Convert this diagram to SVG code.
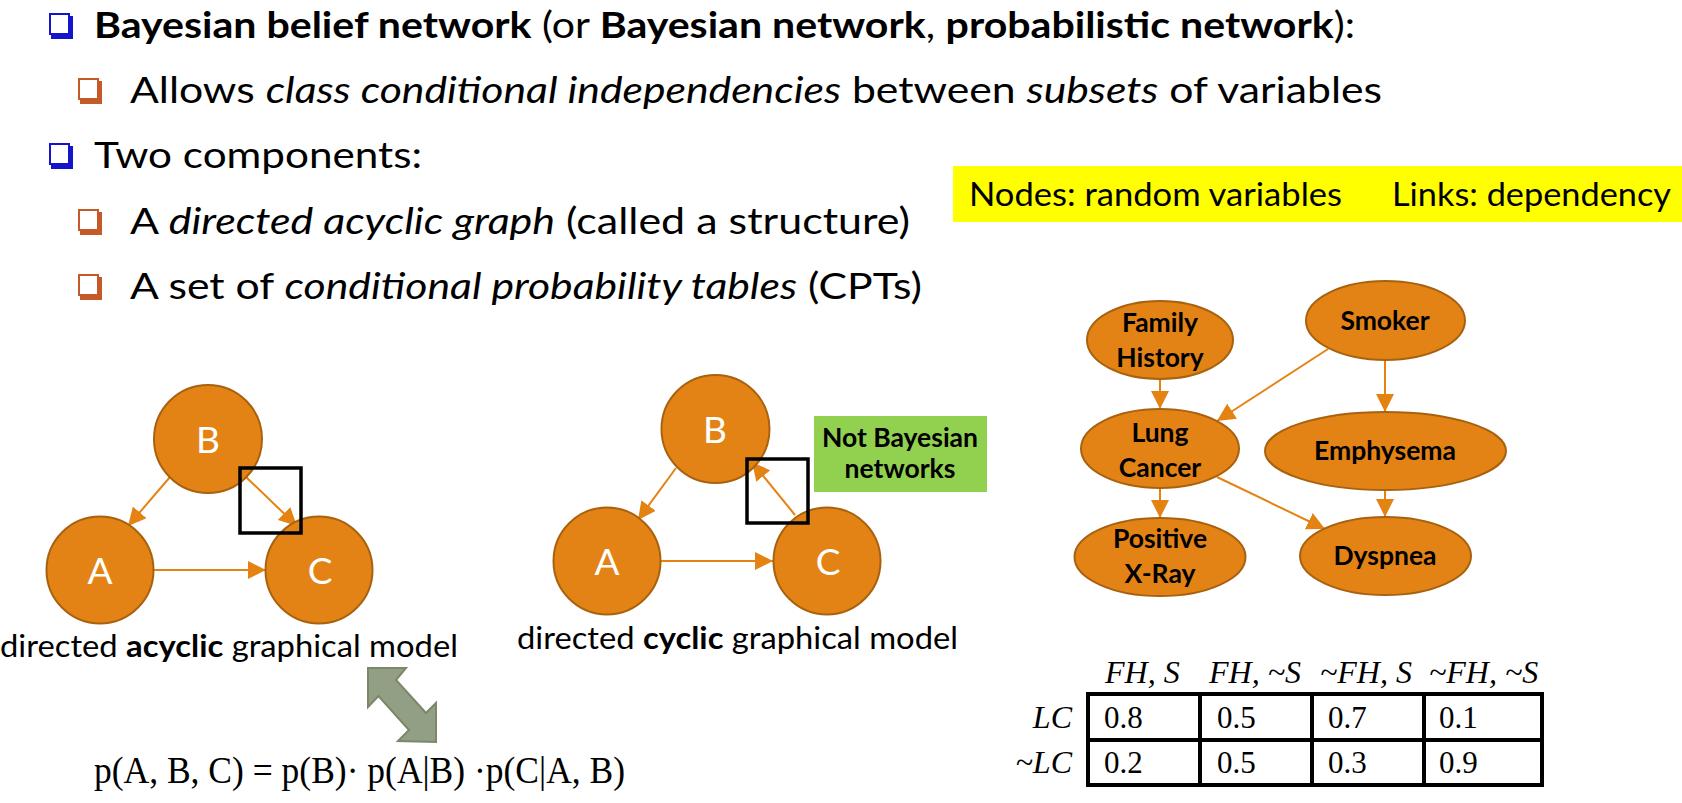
<svg xmlns="http://www.w3.org/2000/svg" width="1682" height="803" viewBox="0 0 1682 803">
<defs>
<style>
.t{font-family:Lato,"Noto Sans","Liberation Sans",sans-serif;fill:#000}
.b{font-weight:bold}
.i{font-style:italic}
.main{font-size:37px}
.cap{font-size:30px}
.node{fill:#E48315;stroke:#A8620F;stroke-width:2}
.lbl{font-family:Lato,"Noto Sans",sans-serif;font-size:37px;fill:#fff;text-anchor:middle}
.nl{font-family:Lato,"Noto Sans",sans-serif;font-size:26.5px;font-weight:bold;fill:#000;text-anchor:middle}
.edge{stroke:#E48312;stroke-width:2;fill:none;marker-end:url(#ah)}
.ser{font-family:"Liberation Serif","Times New Roman",serif;fill:#000}
.cell{fill:#fff;stroke:#000;stroke-width:4}
.box{fill:none;stroke:#000;stroke-width:3.5}
</style>
<marker id="ah" markerWidth="18" markerHeight="18" refX="18" refY="9" orient="auto" markerUnits="userSpaceOnUse">
<path d="M0,0 L18,9 L0,18 z" fill="#E48312"/>
</marker>
<g id="bulletBlue">
<rect x="1" y="1" width="19" height="20" fill="#fff" stroke="#1414CC" stroke-width="2"/>
<polyline points="22,3 22,24 2,24" fill="none" stroke="#1414CC" stroke-width="4"/>
</g>
<g id="bulletOrange">
<rect x="1" y="1" width="19" height="20" fill="#fff" stroke="#C55A28" stroke-width="2"/>
<polyline points="22,3 22,24 2,24" fill="none" stroke="#C55A28" stroke-width="4"/>
</g>
</defs>
<rect width="1682" height="803" fill="#fff"/>

<g id="bullets-text">
<use href="#bulletBlue" x="49" y="13"/>
<text class="t main" x="94" y="38" textLength="1261" lengthAdjust="spacingAndGlyphs"><tspan class="b">Bayesian belief network</tspan> (or <tspan class="b">Bayesian network</tspan>, <tspan class="b">probabilistic network</tspan>):</text>
<use href="#bulletOrange" x="78" y="78"/>
<text class="t main" x="130" y="103" textLength="1252" lengthAdjust="spacingAndGlyphs">Allows <tspan class="i">class conditional independencies</tspan> between <tspan class="i">subsets</tspan> of variables</text>
<use href="#bulletBlue" x="49" y="143"/>
<text class="t main" x="94" y="168" textLength="328" lengthAdjust="spacingAndGlyphs">Two components:</text>
<use href="#bulletOrange" x="78" y="209"/>
<text class="t main" x="130" y="234" textLength="780" lengthAdjust="spacingAndGlyphs">A <tspan class="i">directed acyclic graph</tspan> (called a structure)</text>
<use href="#bulletOrange" x="78" y="274"/>
<text class="t main" x="130" y="299" textLength="792" lengthAdjust="spacingAndGlyphs">A set of <tspan class="i">conditional probability tables</tspan> (CPTs)</text>
</g>

<g id="legend">
<rect x="953" y="166" width="729" height="56" fill="#FFFF00"/>
<text class="t" x="969" y="206" font-size="32" textLength="373" lengthAdjust="spacingAndGlyphs">Nodes: random variables</text>
<text class="t" x="1392" y="206" font-size="32" textLength="279" lengthAdjust="spacingAndGlyphs">Links: dependency</text>
</g>

<g id="connectors">
<line class="edge" x1="170" y1="477" x2="128" y2="526"/>
<line class="edge" x1="246" y1="477" x2="297" y2="526"/>
<line class="edge" x1="154" y1="570" x2="266" y2="570"/>
<line class="edge" x1="676" y1="468" x2="638" y2="520"/>
<line class="edge" x1="795" y1="515" x2="752" y2="462"/>
<line class="edge" x1="661" y1="561" x2="773" y2="561"/>
<line class="edge" x1="1160" y1="380" x2="1160" y2="409"/>
<line class="edge" x1="1328" y1="349" x2="1217" y2="421"/>
<line class="edge" x1="1385" y1="360" x2="1385" y2="412"/>
<line class="edge" x1="1160" y1="488" x2="1160" y2="518"/>
<line class="edge" x1="1217" y1="477" x2="1325" y2="529"/>
<line class="edge" x1="1385" y1="490" x2="1385" y2="517"/>
</g>

<g id="acyclic-B"><circle class="node" cx="208" cy="439" r="54"/><text class="lbl" x="208" y="453">B</text></g>
<g id="acyclic-A"><circle class="node" cx="100" cy="570" r="53.5"/><text class="lbl" x="100" y="584">A</text></g>
<g id="acyclic-C"><circle class="node" cx="319" cy="570" r="53.5"/><text class="lbl" x="320" y="584">C</text></g>
<rect class="box" x="240" y="468" width="61" height="65"/>

<g id="cyclic-B"><circle class="node" cx="715.5" cy="429" r="54"/><text class="lbl" x="715" y="443">B</text></g>
<g id="cyclic-A"><circle class="node" cx="607" cy="561" r="53.5"/><text class="lbl" x="607" y="575">A</text></g>
<g id="cyclic-C"><circle class="node" cx="827" cy="561" r="53.5"/><text class="lbl" x="828" y="575">C</text></g>
<rect class="box" x="747" y="459" width="61" height="64"/>

<g id="not-bayesian">
<rect x="814" y="416" width="173" height="76" fill="#92D050"/>
<text class="nl" x="900" y="447" font-size="21">Not Bayesian</text>
<text class="nl" x="900" y="478" font-size="21">networks</text>
</g>

<text class="t cap" x="0" y="657" textLength="458" lengthAdjust="spacingAndGlyphs">directed <tspan class="b">acyclic</tspan> graphical model</text>
<text class="t cap" x="517" y="649" textLength="441" lengthAdjust="spacingAndGlyphs">directed <tspan class="b">cyclic</tspan> graphical model</text>

<g id="double-arrow">
<polygon points="368,668 406,668 396,680 426,713 436,703 436,742 398,741 409,730 378.5,696 368,707" fill="#939F84" stroke="#7A8868" stroke-width="2" stroke-linejoin="miter"/>
</g>

<text class="ser" x="94" y="783" font-size="38" textLength="531" lengthAdjust="spacingAndGlyphs">p(A, B, C) = p(B)· p(A|B) ·p(C|A, B)</text>

<g id="n-family"><ellipse class="node" cx="1160" cy="340" rx="73" ry="39"/><text class="nl" x="1160" y="332">Family</text><text class="nl" x="1160" y="367">History</text></g>
<g id="n-smoker"><ellipse class="node" cx="1385.5" cy="320.5" rx="79.5" ry="39.5"/><text class="nl" x="1385" y="330">Smoker</text></g>
<g id="n-lung"><ellipse class="node" cx="1160" cy="448.5" rx="79" ry="39.5"/><text class="nl" x="1160" y="442">Lung</text><text class="nl" x="1160" y="477">Cancer</text></g>
<g id="n-emph"><ellipse class="node" cx="1385.5" cy="451" rx="120.5" ry="39"/><text class="nl" x="1385" y="460">Emphysema</text></g>
<g id="n-xray"><ellipse class="node" cx="1160" cy="557" rx="85.5" ry="39"/><text class="nl" x="1160" y="548">Positive</text><text class="nl" x="1160" y="583">X-Ray</text></g>
<g id="n-dysp"><ellipse class="node" cx="1385.5" cy="556" rx="85.5" ry="39"/><text class="nl" x="1385" y="565">Dyspnea</text></g>

<g id="cpt">
<rect class="cell" x="1088" y="694" width="454" height="91"/>
<line x1="1088" y1="740" x2="1542" y2="740" stroke="#000" stroke-width="4"/>
<line x1="1200" y1="694" x2="1200" y2="785" stroke="#000" stroke-width="4"/>
<line x1="1312" y1="694" x2="1312" y2="785" stroke="#000" stroke-width="4"/>
<line x1="1424" y1="694" x2="1424" y2="785" stroke="#000" stroke-width="4"/>
<g class="ser" font-size="32" font-style="italic">
<text x="1105" y="683">FH, S</text>
<text x="1209" y="683">FH, ~S</text>
<text x="1320" y="683">~FH, S</text>
<text x="1429" y="683">~FH, ~S</text>
<text x="1072" y="728" text-anchor="end">LC</text>
<text x="1072" y="773" text-anchor="end">~LC</text>
</g>
<g class="ser" font-size="31">
<text x="1104" y="728">0.8</text><text x="1217" y="728">0.5</text><text x="1328" y="728">0.7</text><text x="1439" y="728">0.1</text>
<text x="1104" y="773">0.2</text><text x="1217" y="773">0.5</text><text x="1328" y="773">0.3</text><text x="1439" y="773">0.9</text>
</g>
</g>
</svg>
